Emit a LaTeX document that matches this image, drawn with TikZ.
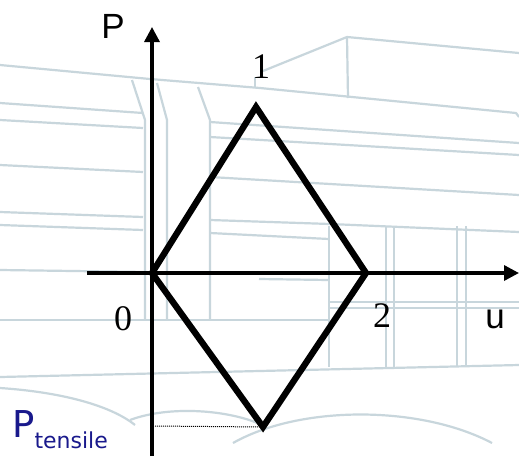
\documentclass[tikz,border=0pt]{standalone}
\usepackage{fontspec}
\setmainfont{Liberation Serif}
\setsansfont{Liberation Sans}
\newfontfamily\labfont{DejaVu Sans}
\usetikzlibrary{arrows.meta}
\definecolor{bgline}{RGB}{200,214,220}
\definecolor{navylab}{RGB}{25,25,140}
\tikzset{
  bg/.style={draw=bgline, line width=2.2pt, line join=round},
  axis/.style={line width=3.3pt, -{Triangle[length=15pt,width=15pt]}},
  curve/.style={line width=6.3pt, line join=miter},
  guide/.style={line width=1pt, densely dotted},
  numlab/.style={font=\fontsize{36}{36}\selectfont, inner sep=0pt},
  sanslab/.style={font=\sffamily\fontsize{35}{35}\selectfont, inner sep=0pt}
}
\begin{document}
\begin{tikzpicture}[x=1pt,y=-1pt]
\useasboundingbox (0,0) rectangle (519,456);
\fill[white] (0,0) rectangle (519,456);
% faint background sketch
\begin{scope}[bg]
\draw (0,65) -- (150,79) -- (260,88) -- (516,113) -- (519,117);
\draw (263,71) -- (347,37) -- (519,53);
\draw (347,37) -- (348,98);
\draw (255,77) -- (255,88);
\draw (132,80) -- (145,120) -- (145,320);
\draw (157,83) -- (167,120) -- (167,320);
\draw (198,87) -- (210,120) -- (210,320);
\draw (0,103) -- (143,113);
\draw (0,120) -- (143,128);
\draw (0,165) -- (143,172);
\draw (0,212) -- (143,217);
\draw (0,225) -- (143,230);
\draw (0,270) -- (147,272);
\draw (0,320) -- (330,320);
\draw (210,122) -- (519,143);
\draw (210,137) -- (519,155);
\draw (210,177) -- (519,195);
\draw (210,220) -- (330,224) -- (519,232);
\draw (210,233) -- (329,239);
\draw (259,279) -- (329,280);
\draw (329,302) -- (519,302);
\draw (329,308) -- (519,308);
\foreach \x in {329,386,394,457,466} \draw (\x,226) -- (\x,367);
\draw (0,377) -- (519,365);
\draw (0,388) .. controls (60,392) and (110,405) .. (135,425);
\draw (130,420) .. controls (170,405) and (230,410) .. (262,425);
\draw (233,443) .. controls (300,405) and (420,405) .. (492,443);
\end{scope}
% key points
\coordinate (O) at (152,273);
\coordinate (T) at (256,107);
\coordinate (R) at (366,273);
\coordinate (B) at (263,427);
\coordinate (ybot) at (152,456);
\coordinate (ytop) at (152,27);
\coordinate (xleft) at (87,273);
\coordinate (xright) at (519,273);
\coordinate (G) at (155,426);
% axes
\draw[axis] (ybot) -- (ytop);
\draw[axis] (xleft) -- (xright);
% diamond
\draw[curve] (O) -- (T) -- (R) -- (B) -- cycle;
% dotted guide
\draw[guide] (G) -- (B);
% labels
\node[sanslab, anchor=base] (lP) at (113,38) {P};
\node[sanslab, anchor=base] (lu) at (495,328) {u};
\node[numlab, anchor=base] (l1) at (261,78) {1};
\node[numlab, anchor=base] (l0) at (123,330) {0};
\node[numlab, anchor=base] (l2) at (382,327) {2};
\node[anchor=base west, inner sep=0pt, text=navylab] (lPt) at (12,437)
  {\labfont\fontsize{37}{37}\selectfont P\raisebox{-11pt}{\fontsize{22}{22}\selectfont tensile}};
\end{tikzpicture}
\end{document}
